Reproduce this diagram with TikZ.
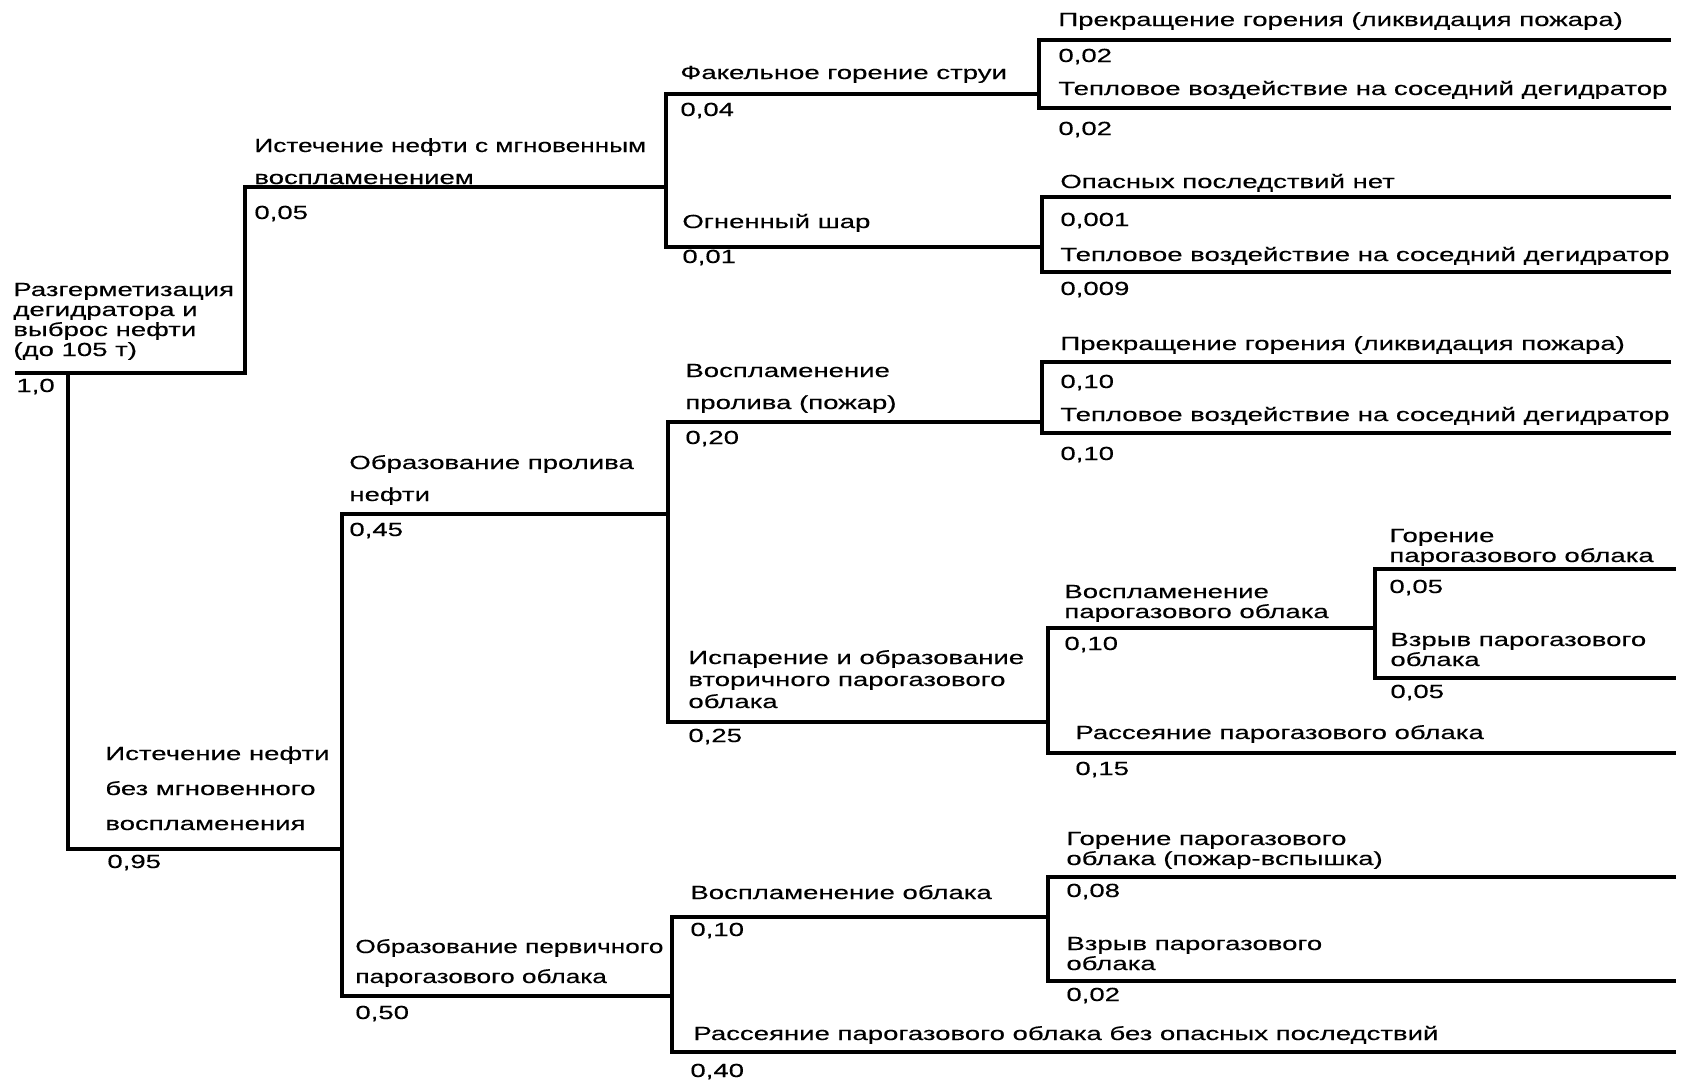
\documentclass[tikz,border=0pt]{standalone}
\usepackage{fontspec}
\setmainfont{Liberation Sans}[FakeStretch=1.45,FakeBold=0.3]
\newfontfamily\narrowfont{Liberation Sans}[FakeStretch=1.38,FakeBold=0.3]
\newcommand\labfont{\fontsize{9.5pt}{10pt}\selectfont}

\begin{document}
\begin{tikzpicture}[x=0.5pt,y=-0.5pt]
\tikzstyle{branch} = [line width=1.6pt, line join=miter]
\tikzstyle{lab} = [anchor=base west, inner sep=0pt, align=left, font=\labfont]
\tikzstyle{prob} = [anchor=base west, inner sep=0pt, font=\labfont]
\useasboundingbox (0,0) rectangle (1685,1084);

% branch points
\coordinate (r0) at (15,373);
\coordinate (r1) at (245,373);
\coordinate (r2) at (68,373);
\coordinate (a) at (666,187);
\coordinate (b) at (342,849);
\coordinate (a1) at (1039,94);
\coordinate (a2) at (1042,247);
\coordinate (a11) at (1671,40);
\coordinate (a12) at (1671,108);
\coordinate (a21) at (1671,197);
\coordinate (a22) at (1671,272);
\coordinate (b1) at (668,514);
\coordinate (b2) at (672,996);
\coordinate (b11) at (1042,422);
\coordinate (b12) at (1048,722);
\coordinate (b111) at (1671,362);
\coordinate (b112) at (1671,433);
\coordinate (b121) at (1375,628);
\coordinate (b122) at (1676,753);
\coordinate (b1211) at (1676,569);
\coordinate (b1212) at (1676,678);
\coordinate (b21) at (1048,917);
\coordinate (b22) at (1676,1052);
\coordinate (b211) at (1676,877);
\coordinate (b212) at (1676,981);

% tree lines
\draw[branch] (r0) -- (r1) |- (a);
\draw[branch] (r2) |- (b);
\draw[branch] (a1) -| (a) |- (a2);
\draw[branch] (a11) -| (a1) |- (a12);
\draw[branch] (a21) -| (a2) |- (a22);
\draw[branch] (b1) -| (b) |- (b2);
\draw[branch] (b11) -| (b1) |- (b12);
\draw[branch] (b111) -| (b11) |- (b112);
\draw[branch] (b121) -| (b12) |- (b122);
\draw[branch] (b1211) -| (b121) |- (b1212);
\draw[branch] (b21) -| (b2) |- (b22);
\draw[branch] (b211) -| (b21) |- (b212);

% root
\node[lab] (t0) at (13,356) {Разгерметизация\\дегидратора и\\выброс нефти\\(до 105 т)};
\node[prob] (p0) at (16,392) {1,0};

% instant ignition
\node[lab] (ta) at (254,184) {{\narrowfont\labfont Истечение нефти с мгновенным}\\[6pt]воспламенением};
\node[prob] (pa) at (254,219) {0,05};
\node[lab] (ta1) at (680,79) {Факельное горение струи};
\node[prob] (pa1) at (680,116) {0,04};
\node[lab] (ta2) at (682,228) {Огненный шар};
\node[prob] (pa2) at (682,263) {0,01};
\node[lab] (ta11) at (1058,26) {Прекращение горения (ликвидация пожара)};
\node[prob] (pa11) at (1058,62) {0,02};
\node[lab] (ta12) at (1058,95) {Тепловое воздействие на соседний дегидратор};
\node[prob] (pa12) at (1058,135) {0,02};
\node[lab] (ta21) at (1060,188) {Опасных последствий нет};
\node[prob] (pa21) at (1060,226) {0,001};
\node[lab] (ta22) at (1060,261) {Тепловое воздействие на соседний дегидратор};
\node[prob] (pa22) at (1060,295) {0,009};

% no instant ignition
\node[lab] (tb) at (105,830) {Истечение нефти\\[7.5pt]без мгновенного\\[7.5pt]воспламенения};
\node[prob] (pb) at (107,868) {0,95};
\node[lab] (tb1) at (349,501) {Образование пролива\\[6pt]нефти};
\node[prob] (pb1) at (349,536) {0,45};
\node[lab, font=\narrowfont\labfont] (tb2) at (355,983) {Образование первичного\\[5pt]парогазового облака};
\node[prob] (pb2) at (355,1019) {0,50};
\node[lab] (tb11) at (685,409) {Воспламенение\\[6pt]пролива (пожар)};
\node[prob] (pb11) at (685,444) {0,20};
\node[lab] (tb111) at (1060,350) {Прекращение горения (ликвидация пожара)};
\node[prob] (pb111) at (1060,388) {0,10};
\node[lab] (tb112) at (1060,421) {Тепловое воздействие на соседний дегидратор};
\node[prob] (pb112) at (1060,460) {0,10};
\node[lab] (tb12) at (688,708) {Испарение и образование\\[1pt]вторичного парогазового\\[1pt]облака};
\node[prob] (pb12) at (688,742) {0,25};
\node[lab] (tb121) at (1064,618) {Воспламенение\\парогазового облака};
\node[prob] (pb121) at (1064,650) {0,10};
\node[lab] (tb1211) at (1389,562) {Горение\\парогазового облака};
\node[prob] (pb1211) at (1389,593) {0,05};
\node[lab] (tb1212) at (1390,666) {Взрыв парогазового\\облака};
\node[prob] (pb1212) at (1390,698) {0,05};
\node[lab] (tb122) at (1075,739) {Рассеяние парогазового облака};
\node[prob] (pb122) at (1075,775) {0,15};
\node[lab] (tb21) at (690,899) {Воспламенение облака};
\node[prob] (pb21) at (690,936) {0,10};
\node[lab] (tb211) at (1066,865) {Горение парогазового\\облака (пожар-вспышка)};
\node[prob] (pb211) at (1066,897) {0,08};
\node[lab] (tb212) at (1066,970) {Взрыв парогазового\\облака};
\node[prob] (pb212) at (1066,1001) {0,02};
\node[lab] (tb22) at (693,1040) {Рассеяние парогазового облака без опасных последствий};
\node[prob] (pb22) at (690,1077) {0,40};
\end{tikzpicture}
\end{document}
